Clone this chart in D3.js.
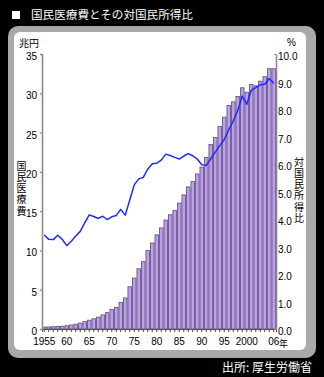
<!DOCTYPE html>
<html><head><meta charset="utf-8">
<script src="https://cdn.jsdelivr.net/npm/d3@7"></script>
<style>
html,body{margin:0;padding:0;background:#000;}
svg{display:block;}
text{font-family:"Liberation Sans","Noto Sans CJK JP",sans-serif;}
.jp{font-family:"Noto Sans CJK JP",sans-serif;}
.vt{writing-mode:vertical-rl;text-orientation:upright;}
</style></head>
<body>
<script>
const years = [1955,1956,1957,1958,1959,1960,1961,1962,1963,1964,1965,1966,1967,1968,1969,1970,1971,1972,1973,1974,1975,1976,1977,1978,1979,1980,1981,1982,1983,1984,1985,1986,1987,1988,1989,1990,1991,1992,1993,1994,1995,1996,1997,1998,1999,2000,2001,2002,2003,2004,2005,2006];
// 国民医療費 (兆円)
const expenditure = [0.24,0.26,0.29,0.32,0.35,0.41,0.51,0.61,0.75,0.94,1.12,1.30,1.51,1.80,2.08,2.50,2.73,3.40,3.95,5.38,6.48,7.67,8.57,10.00,10.95,11.98,12.87,13.87,14.54,15.09,16.02,17.07,18.08,18.76,19.73,20.61,21.83,23.48,24.36,25.79,26.96,28.45,28.91,29.58,30.70,30.14,31.12,30.95,31.54,32.11,33.13,33.13];
// 対国民所得比 (%)
const ratio = [3.42,3.26,3.25,3.41,3.26,3.03,3.19,3.38,3.55,3.86,4.15,4.09,4.02,4.10,3.98,4.08,4.13,4.35,4.14,4.69,5.24,5.46,5.51,5.81,6.01,6.03,6.14,6.36,6.31,6.24,6.18,6.29,6.38,6.30,6.18,5.97,5.95,6.19,6.43,6.67,6.89,7.25,7.56,7.95,8.47,8.17,8.68,8.78,8.88,8.90,9.11,8.94];
const leftTicks = [0,5,10,15,20,25,30,35];
const rightTicks = [0,1,2,3,4,5,6,7,8,9,10];
const xTickYears = [1955,1960,1965,1970,1975,1980,1985,1990,1995,2000,2006];
const xTickLabels = ["1955","60","65","70","75","80","85","90","95","2000","06"];
const title = "国民医療費とその対国民所得比";
const leftTitle = "国民医療費";
const rightTitle = "対国民所得比";
const leftUnit = "兆円", rightUnit = "%", yearUnit = "年";
const source = "出所: 厚生労働省";

const W = 324, H = 377;
const svg = d3.select("body").append("svg").attr("width", W).attr("height", H);
svg.append("rect").attr("width", W).attr("height", H).attr("fill", "#000");

// panel
svg.append("rect").attr("x", 8).attr("y", 26).attr("width", 308).attr("height", 332).attr("rx", 10).attr("fill", "#a9a9a9");
svg.append("rect").attr("x", 14).attr("y", 32).attr("width", 292).attr("height", 318).attr("rx", 6).attr("fill", "#fff");

// title
svg.append("rect").attr("x", 12).attr("y", 11).attr("width", 8).attr("height", 8).attr("fill", "#fff");
svg.append("text").attr("class", "jp").attr("x", 31).attr("y", 18.5).attr("fill", "#fff")
  .attr("font-size", 11.6).text(title);

// scales
const x = d3.scaleBand().domain(years).range([42, 276]).paddingInner(0.2).paddingOuter(0.1);
const yL = d3.scaleLinear().domain([0, 35]).range([329, 54]);
const yR = d3.scaleLinear().domain([0, 10]).range([329, 54]);

// bars
svg.append("g").selectAll("rect").data(years).join("rect")
  .attr("x", (d) => x(d))
  .attr("y", (d, i) => yL(expenditure[i]))
  .attr("width", x.bandwidth())
  .attr("height", (d, i) => yL(0) - yL(expenditure[i]))
  .attr("fill", "#bf9cf6").attr("stroke", "#5a5266").attr("stroke-width", 0.8);

// x axis
const gx = svg.append("g").attr("transform", `translate(0,${yL(0)})`)
  .call(d3.axisBottom(x).tickValues(years).tickSize(3).tickFormat(""));
gx.select(".domain").attr("stroke", "#555");
gx.selectAll(".tick line").attr("stroke", "#444");
const xl = svg.append("g");
xTickYears.forEach((yr, i) => {
  xl.append("text").attr("x", x(yr) + x.bandwidth() / 2).attr("y", 345)
    .attr("text-anchor", "middle").attr("font-size", 10).attr("fill", "#000").text(xTickLabels[i]);
});
svg.append("text").attr("class", "jp").attr("x", 279).attr("y", 347).attr("font-size", 9).attr("fill", "#000").text(yearUnit);

// left axis
const gl = svg.append("g").attr("transform", "translate(42,0)")
  .call(d3.axisLeft(yL).tickValues(leftTicks).tickSize(2).tickPadding(3));
gl.select(".domain").attr("stroke", "#8a8a8a").attr("stroke-width", 1.6);
gl.selectAll(".tick line").attr("stroke", "#8a8a8a").attr("stroke-width", 1.2);
gl.selectAll(".tick text").attr("font-size", 10).attr("fill", "#000").attr("dy", "0.55em");

// right axis
const gr = svg.append("g").attr("transform", "translate(276,0)")
  .call(d3.axisRight(yR).tickValues(rightTicks).tickSize(0).tickPadding(2).tickFormat(d3.format(".1f")));
gr.select(".domain").attr("stroke", "#8a8a8a").attr("stroke-width", 1.6);
gr.selectAll(".tick text").attr("font-size", 10).attr("fill", "#000").attr("dy", "0.55em");
gr.selectAll(".tick").append("line").attr("x1", -2).attr("x2", 0).attr("stroke", "#8a8a8a").attr("stroke-width", 1.2);

// line
const line = d3.line().x((d, i) => x(years[i]) + x.bandwidth() / 2).y((d) => yR(d));
svg.append("path").datum(ratio).attr("d", line).attr("fill", "none")
  .attr("stroke", "#1f2bff").attr("stroke-width", 1.5).attr("stroke-linejoin", "round");

// unit labels
svg.append("text").attr("class", "jp").attr("x", 19).attr("y", 47).attr("font-size", 10).attr("fill", "#000").text(leftUnit);
svg.append("text").attr("x", 287).attr("y", 46).attr("font-size", 10).attr("fill", "#000").text(rightUnit);

// vertical titles
svg.append("text").attr("class", "jp vt").attr("x", 21.5).attr("y", 161)
  .attr("font-size", 10).attr("letter-spacing", 1.2).attr("fill", "#000").text(leftTitle);
svg.append("text").attr("class", "jp vt").attr("x", 299).attr("y", 157)
  .attr("font-size", 10).attr("letter-spacing", 1.2).attr("fill", "#000").text(rightTitle);

// source
svg.append("text").attr("class", "jp").attr("x", 312).attr("y", 372).attr("text-anchor", "end")
  .attr("font-size", 12).attr("fill", "#fff").text(source);
</script>
</body></html>
